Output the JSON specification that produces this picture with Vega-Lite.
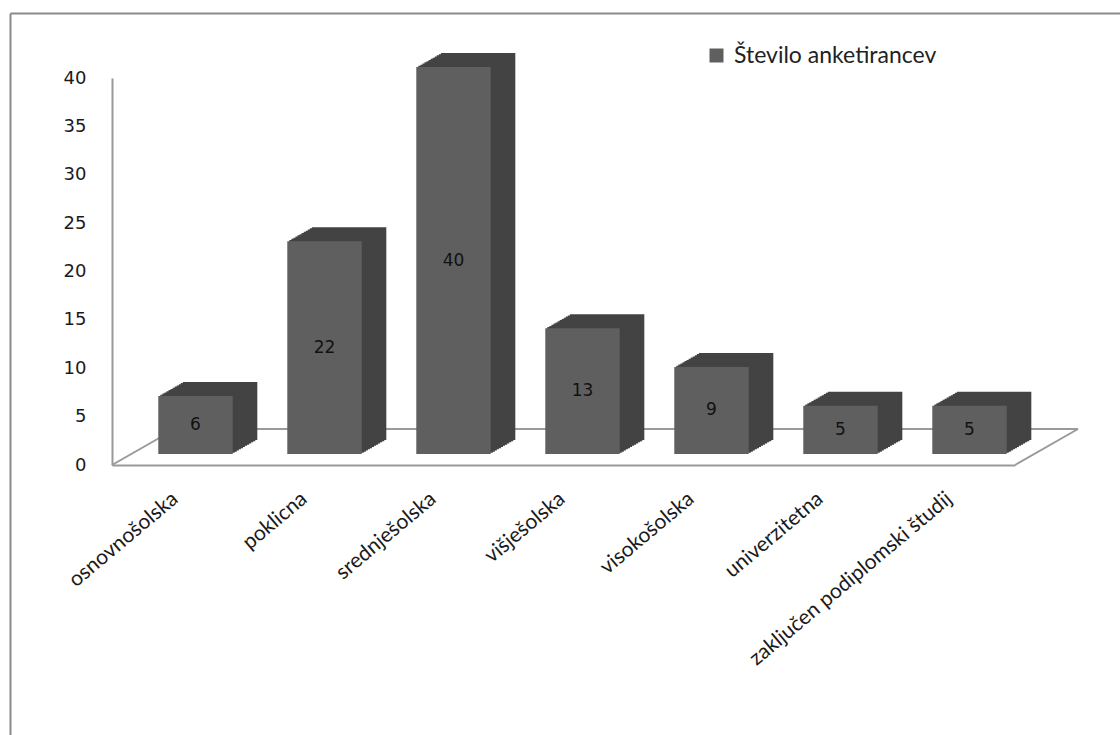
{
  "$schema": "https://vega.github.io/schema/vega-lite/v6.json",
  "autosize": "none",
  "padding": {"left": 10, "top": 13, "right": 0, "bottom": 0},
  "width": 1110,
  "height": 722,
  "background": "white",
  "config": {"view": {"stroke": null}, "axis": {"grid": false}},
  "data": {"values": [
    {"stopnja": "osnovnošolska", "n": 6, "serija": "Število anketirancev"},
    {"stopnja": "poklicna", "n": 22, "serija": "Število anketirancev"},
    {"stopnja": "srednješolska", "n": 40, "serija": "Število anketirancev"},
    {"stopnja": "višješolska", "n": 13, "serija": "Število anketirancev"},
    {"stopnja": "visokošolska", "n": 9, "serija": "Število anketirancev"},
    {"stopnja": "univerzitetna", "n": 5, "serija": "Število anketirancev"},
    {"stopnja": "zaključen podiplomski študij", "n": 5, "serija": "Število anketirancev"}
  ]},
  "layer": [
    {
      "mark": {"type": "point", "opacity": 0},
      "encoding": {
        "x": {"field": "n", "type": "quantitative", "axis": {"orient": "top", "domainColor": "#8a8a8a", "domainWidth": 2, "ticks": false, "labels": false, "grid": false, "title": null}},
        "y": {"field": "n", "type": "quantitative", "axis": {"orient": "left", "domainColor": "#8a8a8a", "domainWidth": 2, "ticks": false, "labels": false, "grid": false, "title": null}}
      }
    },
    {
      "data": {"values": [{"rob": "zadaj"}]},
      "mark": {"type": "rule", "color": "#9a9a9a", "strokeWidth": 2, "xOffset": 63, "x2Offset": 63, "yOffset": -36},
      "encoding": {
        "x": {"datum": 0, "type": "quantitative", "scale": {"domain": [0, 1], "range": [102, 1005]}, "axis": null},
        "x2": {"datum": 1},
        "y": {"datum": 0, "type": "quantitative", "scale": {"domain": [0, 40], "range": [452, 65]}, "axis": null}
      }
    },
    {
      "data": {"values": [{"rob": "levo"}]},
      "mark": {"type": "rule", "color": "#9a9a9a", "strokeWidth": 2, "x2Offset": 63, "y2Offset": -36},
      "encoding": {
        "x": {"datum": 0, "type": "quantitative", "scale": {"domain": [0, 1], "range": [102, 1005]}, "axis": null},
        "x2": {"datum": 0},
        "y": {"datum": 0, "type": "quantitative", "scale": {"domain": [0, 40], "range": [452, 65]}, "axis": null},
        "y2": {"datum": 0}
      }
    },
    {
      "data": {"values": [{"rob": "desno"}]},
      "mark": {"type": "rule", "color": "#9a9a9a", "strokeWidth": 2, "x2Offset": 63, "y2Offset": -36},
      "encoding": {
        "x": {"datum": 1, "type": "quantitative", "scale": {"domain": [0, 1], "range": [102, 1005]}, "axis": null},
        "x2": {"datum": 1},
        "y": {"datum": 0, "type": "quantitative", "scale": {"domain": [0, 40], "range": [452, 65]}, "axis": null},
        "y2": {"datum": 0}
      }
    },
    {
      "encoding": {
        "x": {"field": "stopnja", "type": "nominal", "sort": null, "scale": {"range": [102, 1005], "paddingInner": 0.423, "paddingOuter": 0.2115}, "axis": null},
        "y": {"field": "n", "type": "quantitative", "scale": {"domain": [0, 40], "range": [452, 65]}, "axis": null}
      },
      "layer": [
        {"mark": {"type": "bar", "color": "#434343", "xOffset": 43.6, "yOffset": -25, "y2Offset": -25}},
        {"mark": {"type": "bar", "color": "#434343", "xOffset": 41.55, "yOffset": -23.83, "y2Offset": -23.83}},
        {"mark": {"type": "bar", "color": "#434343", "xOffset": 39.5, "yOffset": -22.67, "y2Offset": -22.67}},
        {"mark": {"type": "bar", "color": "#434343", "xOffset": 37.45, "yOffset": -21.5, "y2Offset": -21.5}},
        {"mark": {"type": "bar", "color": "#434343", "xOffset": 35.4, "yOffset": -20.33, "y2Offset": -20.33}},
        {"mark": {"type": "bar", "color": "#434343", "xOffset": 33.35, "yOffset": -19.17, "y2Offset": -19.17}},
        {"mark": {"type": "bar", "color": "#434343", "xOffset": 31.3, "yOffset": -18, "y2Offset": -18}},
        {"mark": {"type": "bar", "color": "#434343", "xOffset": 29.25, "yOffset": -16.83, "y2Offset": -16.83}},
        {"mark": {"type": "bar", "color": "#434343", "xOffset": 27.2, "yOffset": -15.67, "y2Offset": -15.67}},
        {"mark": {"type": "bar", "color": "#434343", "xOffset": 25.15, "yOffset": -14.5, "y2Offset": -14.5}},
        {"mark": {"type": "bar", "color": "#434343", "xOffset": 23.1, "yOffset": -13.33, "y2Offset": -13.33}},
        {"mark": {"type": "bar", "color": "#434343", "xOffset": 21.05, "yOffset": -12.17, "y2Offset": -12.17}}
      ]
    },
    {
      "mark": {"type": "bar", "xOffset": 19, "yOffset": -11, "y2Offset": -11, "opacity": 1},
      "encoding": {
        "x": {"field": "stopnja", "type": "nominal", "sort": null, "scale": {"range": [102, 1005], "paddingInner": 0.423, "paddingOuter": 0.2115},
          "axis": {"orient": "bottom", "offset": -270, "title": null, "ticks": false, "domain": true, "domainColor": "#9a9a9a", "domainWidth": 2, "labelAngle": -40, "labelAlign": "right", "labelBaseline": "middle", "labelPadding": 31, "labelOffset": -1, "labelFont": "Lato", "labelFontSize": 21, "labelColor": "#1a1a1a", "labelLimit": 0}},
        "y": {"field": "n", "type": "quantitative", "scale": {"domain": [0, 40], "range": [452, 65]},
          "axis": {"orient": "left", "offset": -102, "title": null, "ticks": false, "grid": false, "values": [0, 5, 10, 15, 20, 25, 30, 35, 40], "domainColor": "#9a9a9a", "domainWidth": 2, "labelPadding": 26, "labelFont": "DejaVu Sans", "labelFontSize": 18, "labelColor": "#1a1a1a"}},
        "color": {"field": "serija", "type": "nominal", "scale": {"range": ["#5f5f5f"]},
          "legend": {"orient": "none", "legendX": 695, "legendY": 31, "title": null, "symbolType": "square", "symbolSize": 196, "symbolStrokeWidth": 0, "symbolOpacity": 1, "labelFont": "Lato", "labelFontSize": 23, "labelColor": "#222222", "labelOffset": 6, "labelLimit": 0, "padding": 0}}
      }
    },
    {
      "mark": {"type": "text", "xOffset": 19, "yOffset": -11, "align": "center", "baseline": "middle", "font": "DejaVu Sans", "fontSize": 17, "color": "#111111"},
      "encoding": {
        "x": {"field": "stopnja", "type": "nominal", "sort": null, "scale": {"range": [102, 1005], "paddingInner": 0.423, "paddingOuter": 0.2115}, "axis": null},
        "y": {"field": "n", "type": "quantitative", "scale": {"domain": [0, 80], "range": [452, 65]}, "axis": null},
        "text": {"field": "n", "type": "quantitative"}
      }
    }
  ],
  "resolve": {"scale": {"x": "independent", "y": "independent", "color": "independent"}, "axis": {"x": "independent", "y": "independent"}}
}
